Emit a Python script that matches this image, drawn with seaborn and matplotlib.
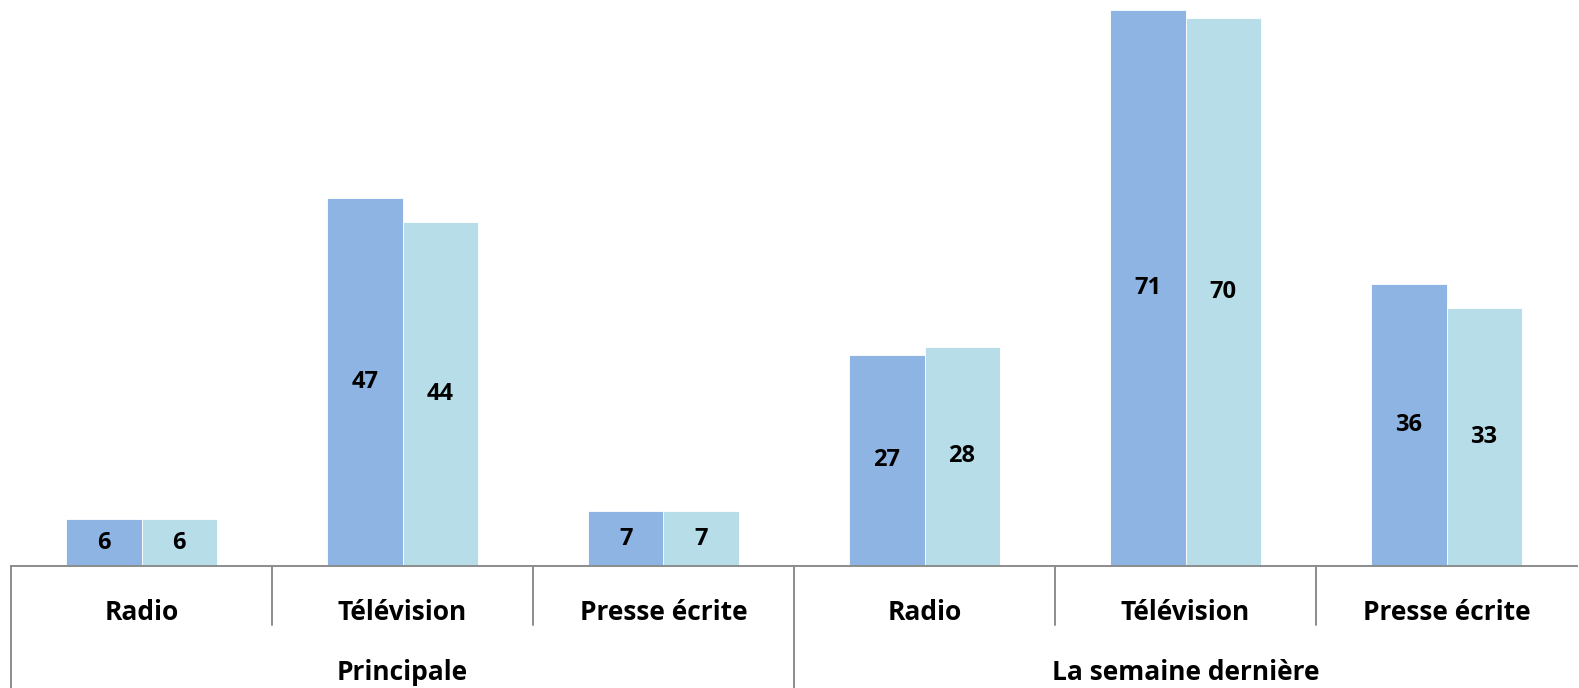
import matplotlib
matplotlib.use("Agg")
import matplotlib.pyplot as plt
import matplotlib.transforms as mtransforms
import seaborn as sns
import pandas as pd

# Data
groups = ["Principale", "La semaine dernière"]
media = ["Radio", "Télévision", "Presse écrite"]
series_names = ["Série 1", "Série 2"]
serie1 = [6, 47, 7, 27, 71, 36]
serie2 = [6, 44, 7, 28, 70, 33]

colors = ["#8EB4E3", "#B7DEE8"]

sns.set_theme(style="white")
plt.rcParams["font.family"] = ["Open Sans", "DejaVu Sans"]

keys = [f"{g} | {m}" for g in groups for m in media]
df = pd.DataFrame({
    "cat": keys * 2,
    "serie": [series_names[0]] * len(keys) + [series_names[1]] * len(keys),
    "val": serie1 + serie2,
})

W, H = 1579, 688
fig = plt.figure(figsize=(W / 100, H / 100), dpi=100)
ax = fig.add_axes([11 / W, (H - 566) / H, 1566 / W, 566 / H])

sns.barplot(data=df, x="cat", y="val", hue="serie", order=keys,
            hue_order=series_names, palette=colors, width=0.575,
            saturation=1, legend=False, ax=ax, errorbar=None,
            edgecolor="white", linewidth=0.6)

ax.set_xlim(-0.5, len(keys) - 0.5)
ax.set_ylim(0, 72.3)
ax.set_xlabel("")
ax.set_ylabel("")
ax.set_xticks([])
ax.set_yticks([])
for s in ["left", "right", "top"]:
    ax.spines[s].set_visible(False)
ax.spines["bottom"].set_color("#8c8c8c")
ax.spines["bottom"].set_linewidth(1.4)

# Value labels centred in each bar
for cont in ax.containers:
    for bar in cont:
        h = bar.get_height()
        ax.text(bar.get_x() + bar.get_width() / 2, h / 2, f"{h:g}",
                ha="center", va="center", fontsize=17, fontweight="bold",
                color="black")

# Multi-level category axis
tr = mtransforms.blended_transform_factory(ax.transData, fig.transFigure)
line_kw = dict(color="#8c8c8c", linewidth=1.4, transform=tr, clip_on=False)
for x in [0.5, 1.5, 3.5, 4.5]:
    ax.add_line(plt.Line2D([x, x], [(H - 566) / H, (H - 625) / H], **line_kw))
for x in [-0.5, 2.5]:
    ax.add_line(plt.Line2D([x, x], [(H - 566) / H, 0], **line_kw))

for i, k in enumerate(keys):
    ax.text(i, (H - 612) / H, k.split(" | ")[1], transform=tr, ha="center",
            va="center", fontsize=19, fontweight="bold", color="black")
for gi, g in enumerate(groups):
    ax.text(gi * 3 + 1, (H - 672) / H, g, transform=tr, ha="center",
            va="center", fontsize=19, fontweight="bold", color="black")

fig.savefig("out.png", dpi=100, facecolor="white")
